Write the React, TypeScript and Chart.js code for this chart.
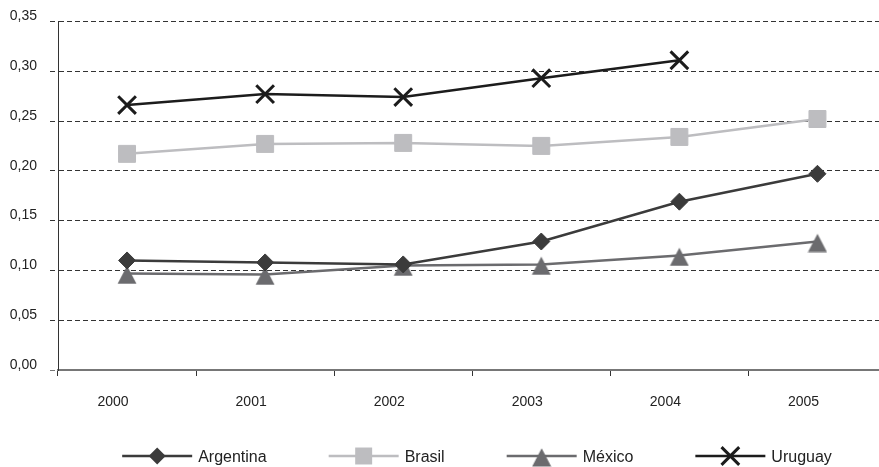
import React, { useEffect, useRef } from "react";
import { Chart, registerables } from "chart.js";

Chart.register(...registerables);

const years = ["2000", "2001", "2002", "2003", "2004", "2005"];
const argentina = [0.110, 0.108, 0.106, 0.129, 0.169, 0.197];
const brasil = [0.217, 0.227, 0.228, 0.225, 0.234, 0.252];
const mexico = [0.097, 0.096, 0.105, 0.106, 0.115, 0.129];
const uruguay = [0.266, 0.277, 0.274, 0.293, 0.311, null];
const seriesNames = ["Argentina", "Brasil", "México", "Uruguay"];
const yTicks = [0, 0.05, 0.1, 0.15, 0.2, 0.25, 0.3, 0.35];

const FONT = '"Liberation Sans", Arial, Helvetica, sans-serif';

function makeTriangle(color: string): HTMLCanvasElement {
  // triangle whose apex sits 7.7px above and base 10.3px below the point
  const c = document.createElement("canvas");
  c.width = 20;
  c.height = 22;
  const g = c.getContext("2d")!;
  g.fillStyle = color;
  g.beginPath();
  g.moveTo(10, 3.3);
  g.lineTo(19.5, 21.5);
  g.lineTo(0.5, 21.5);
  g.closePath();
  g.fill();
  return c;
}

function drawMarker(ctx: CanvasRenderingContext2D, style: any, x: number, y: number, r: number, color: string, bw: number) {
  ctx.save();
  ctx.fillStyle = color;
  ctx.strokeStyle = color;
  ctx.lineWidth = bw;
  ctx.beginPath();
  if (typeof style !== "string") {
    ctx.drawImage(style, x - style.width / 2, y - style.height / 2);
  } else if (style === "rectRot") {
    ctx.moveTo(x - r, y); ctx.lineTo(x, y - r); ctx.lineTo(x + r, y); ctx.lineTo(x, y + r); ctx.closePath(); ctx.fill();
  } else if (style === "rect") {
    const h = r * Math.SQRT1_2;
    ctx.rect(x - h, y - h, 2 * h, 2 * h); ctx.fill();
  } else if (style === "crossRot") {
    const h = r * Math.SQRT1_2;
    ctx.moveTo(x - h, y - h); ctx.lineTo(x + h, y + h);
    ctx.moveTo(x + h, y - h); ctx.lineTo(x - h, y + h);
    ctx.stroke();
  }
  ctx.restore();
}

const LEGEND_CX = 477;
const LEGEND_Y = 456;
const LINE_LEN = 70;
const TEXT_GAP = 6;
const ITEM_GAP = 62;

const lineLegend = {
  id: "lineLegend",
  afterDraw(chart: any) {
    const ctx: CanvasRenderingContext2D = chart.ctx;
    ctx.save();
    ctx.font = "16px " + FONT;
    const ds = chart.data.datasets;
    const widths = ds.map((d: any) => ctx.measureText(d.label).width);
    const total = widths.reduce((s: number, w: number) => s + LINE_LEN + TEXT_GAP + w, 0) + ITEM_GAP * (ds.length - 1);
    let x = LEGEND_CX - total / 2;
    ds.forEach((d: any, i: number) => {
      ctx.strokeStyle = d.borderColor;
      ctx.lineWidth = d.borderWidth;
      ctx.beginPath();
      ctx.moveTo(x, LEGEND_Y);
      ctx.lineTo(x + LINE_LEN, LEGEND_Y);
      ctx.stroke();
      drawMarker(ctx, d.pointStyle, x + LINE_LEN / 2, LEGEND_Y, d.pointRadius, d.pointBackgroundColor, d.pointBorderWidth);
      ctx.fillStyle = "#222";
      ctx.textBaseline = "middle";
      ctx.textAlign = "left";
      ctx.fillText(d.label, x + LINE_LEN + TEXT_GAP, LEGEND_Y + 2);
      x += LINE_LEN + TEXT_GAP + widths[i] + ITEM_GAP;
    });
    ctx.restore();
  },
};

export default function App() {
  const ref = useRef<HTMLCanvasElement | null>(null);
  useEffect(() => {
    if (!ref.current) return;
    const mk = (label: string, data: any[], color: string, style: any, r: number, bw: number) => ({
      label,
      data,
      borderColor: color,
      backgroundColor: color,
      borderWidth: 2.5,
      pointStyle: style,
      pointRadius: r,
      pointBackgroundColor: color,
      pointBorderColor: color,
      pointBorderWidth: bw,
      spanGaps: false,
      tension: 0,
    });
    const mexColor = "#6b6b6e";
    const chart = new Chart(ref.current, {
      type: "line",
      data: {
        labels: years,
        datasets: [
          mk(seriesNames[0], argentina, "#3b3b3b", "rectRot", 8.5, 1),
          mk(seriesNames[1], brasil, "#bdbdc0", "rect", 12, 1),
          mk(seriesNames[2], mexico, mexColor, makeTriangle(mexColor), 11, 1),
          mk(seriesNames[3], uruguay, "#1c1c1c", "crossRot", 12.5, 3),
        ],
      },
      options: {
        responsive: false,
        animation: false,
        devicePixelRatio: 1,
        layout: { padding: { top: 14, bottom: 47, left: 0, right: 0 } },
        plugins: { legend: { display: false }, tooltip: { enabled: false } },
        elements: { point: { hoverRadius: 0 } },
        scales: {
          x: {
            offset: true,
            afterFit: (s: any) => { s.height = 50; },
            grid: {
              display: true,
              offset: true,
              drawOnChartArea: false,
              drawTicks: true,
              tickLength: 6,
              color: "#333",
              lineWidth: 1,
            },
            border: { display: true, color: "#777", width: 1.5 },
            ticks: {
              color: "#222",
              font: { family: FONT, size: 14 },
              padding: 18,
              labelOffset: -14,
              maxRotation: 0,
            },
          },
          y: {
            min: 0,
            max: 0.35,
            afterFit: (s: any) => { s.width = 58; },
            afterBuildTicks: (s: any) => { s.ticks = yTicks.map((v) => ({ value: v })); },
            grid: {
              color: (c: any) => (c.tick && c.tick.value === 0 ? "#777" : "#333"),
              lineWidth: 1,
              tickBorderDash: [5, 3],
              tickLength: 8,
              drawTicks: true,
            },
            border: {
              display: true,
              color: "#333",
              width: 1,
              dash: (c: any) => (c.tick && c.tick.value === 0 ? [] : [5, 3]),
            },
            ticks: {
              color: "#222",
              font: { family: FONT, size: 14 },
              padding: 13,
              labelOffset: -5,
              callback: (v: any) => Number(v).toFixed(2).replace(".", ","),
            },
          },
        },
      },
      plugins: [lineLegend],
    } as any);
    return () => chart.destroy();
  }, []);
  return (
    <div style={{ position: "absolute", left: 0, top: 0, width: 879, height: 467, overflow: "hidden", background: "#fff" }}>
      <canvas ref={ref} width={902} height={467} style={{ display: "block" }} />
    </div>
  );
}
